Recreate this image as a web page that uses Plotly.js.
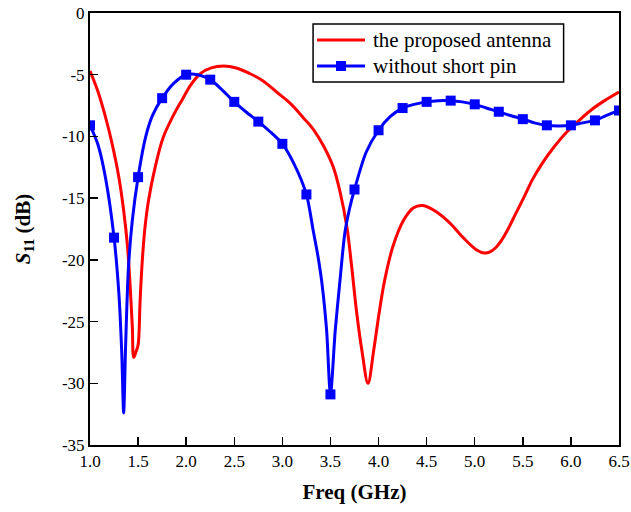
<!DOCTYPE html>
<html>
<head>
<meta charset="utf-8">
<script src="https://cdn.plot.ly/plotly-3.0.1.min.js"></script>
<style>html,body{margin:0;padding:0;background:#fff;}#chart{width:631px;height:512px;}</style>
</head>
<body>
<div id="chart"></div>
<script>
// The proposed antenna
const redFreq = [1.0,1.08,1.16,1.23,1.30,1.35,1.39,1.42,1.44,1.455,1.48,1.50,1.52,1.54,1.57,1.61,1.68,1.76,1.86,1.96,2.05,2.15,2.26,2.39,2.52,2.66,2.80,2.94,3.08,3.22,3.32,3.43,3.53,3.60,3.67,3.72,3.77,3.83,3.89,3.95,4.01,4.065,4.15,4.26,4.36,4.46,4.60,4.74,4.88,5.02,5.10,5.16,5.22,5.28,5.34,5.43,5.52,5.60,5.70,5.82,5.95,6.1,6.22,6.35,6.5];
const redS11 = [-4.7,-6.3,-8.4,-10.6,-13.3,-16.0,-18.9,-22.5,-25.4,-27.9,-27.4,-26.9,-23.5,-20.5,-17.5,-15.1,-12.4,-10.1,-8.4,-7.0,-5.8,-4.9,-4.45,-4.3,-4.45,-4.9,-5.5,-6.4,-7.3,-8.5,-9.4,-10.8,-12.5,-14.5,-17.3,-20.5,-24.1,-27.5,-30.0,-27.3,-24.1,-21.6,-18.9,-16.8,-15.8,-15.6,-16.1,-17.0,-18.2,-19.2,-19.45,-19.35,-19.0,-18.4,-17.6,-16.2,-14.8,-13.5,-12.2,-10.9,-9.7,-8.6,-7.8,-7.1,-6.4];
// Without short pin
const blueFreq = [1.0,1.08,1.16,1.25,1.30,1.33,1.35,1.37,1.40,1.44,1.5,1.58,1.65,1.75,1.87,2.0,2.12,2.25,2.37,2.5,2.62,2.75,2.87,3.0,3.12,3.25,3.32,3.37,3.41,3.46,3.5,3.55,3.60,3.65,3.70,3.75,3.87,4.0,4.12,4.25,4.37,4.5,4.62,4.75,4.87,5.0,5.12,5.25,5.37,5.5,5.62,5.75,5.87,6.0,6.12,6.25,6.37,6.5];
const blueS11 = [-9.1,-10.6,-13.3,-18.2,-22.7,-27.5,-32.4,-27.0,-20.6,-16.8,-13.3,-10.0,-8.3,-6.9,-5.7,-5.0,-5.0,-5.4,-6.2,-7.2,-8.0,-8.8,-9.6,-10.6,-12.2,-14.7,-17.6,-19.7,-21.8,-25.7,-30.9,-25.7,-21.6,-17.8,-15.8,-14.3,-11.3,-9.5,-8.4,-7.7,-7.4,-7.2,-7.1,-7.1,-7.2,-7.4,-7.7,-8.0,-8.3,-8.6,-8.9,-9.1,-9.15,-9.1,-8.9,-8.7,-8.3,-7.9];
const seriesNames = ['the proposed antenna', 'without short pin'];
const xTicks = [1.0,1.5,2.0,2.5,3.0,3.5,4.0,4.5,5.0,5.5,6.0,6.5];
const xTickLabels = ['1.0','1.5','2.0','2.5','3.0','3.5','4.0','4.5','5.0','5.5','6.0','6.5'];
const yTicks = [-35,-30,-25,-20,-15,-10,-5,0];
const yTickLabels = ['-35','-30','-25','-20','-15','-10','-5','0'];
const markerStep = 0.25;

const mkF = [], mkS = [];
blueFreq.forEach((f, i) => {
  const r = f / markerStep;
  if (Math.abs(r - Math.round(r)) < 1e-6) { mkF.push(f); mkS.push(blueS11[i]); }
});

const RED = '#ff0000', BLUE = '#0000ff';
const FONT = 'Liberation Serif';

const traces = [
  {x: redFreq, y: redS11, mode: 'lines', name: seriesNames[0], showlegend: false,
   line: {color: RED, width: 3, shape: 'spline', smoothing: 1}},
  {x: blueFreq, y: blueS11, mode: 'lines', name: seriesNames[1], showlegend: false,
   line: {color: BLUE, width: 3, shape: 'spline', smoothing: 0.8}},
  {x: mkF, y: mkS, mode: 'markers', name: seriesNames[1], showlegend: false,
   marker: {color: BLUE, symbol: 'square', size: 10}}
];

// Legend box (drawn in paper coordinates of the plot area)
const L = {x0: 0.4217, x1: 0.8953, y0: 0.8403, y1: 0.9745,
           lx0: 0.4292, lx1: 0.5198, tx: 0.5320, r1: 0.9375, r2: 0.8773};
const mx = (L.lx0 + L.lx1) / 2, hw = 5 / 530, hh = 5 / 432;

const layout = {
  width: 631, height: 512,
  margin: {l: 89.5, r: 11.5, t: 13, b: 67},
  paper_bgcolor: '#fff', plot_bgcolor: '#fff',
  font: {family: FONT, size: 16, color: '#000'},
  showlegend: false,
  shapes: [
    {type: 'rect', xref: 'paper', yref: 'paper', x0: L.x0, x1: L.x1, y0: L.y0, y1: L.y1,
     line: {color: '#000', width: 1.5}, fillcolor: '#fff', layer: 'above'},
    {type: 'line', xref: 'paper', yref: 'paper', x0: L.lx0, x1: L.lx1, y0: L.r1, y1: L.r1,
     line: {color: RED, width: 3}, layer: 'above'},
    {type: 'line', xref: 'paper', yref: 'paper', x0: L.lx0, x1: L.lx1, y0: L.r2, y1: L.r2,
     line: {color: BLUE, width: 3}, layer: 'above'},
    {type: 'rect', xref: 'paper', yref: 'paper', x0: mx - hw, x1: mx + hw, y0: L.r2 - hh, y1: L.r2 + hh,
     line: {width: 0}, fillcolor: BLUE, layer: 'above'}
  ],
  annotations: [
    {xref: 'paper', yref: 'paper', x: L.tx, y: L.r1, xanchor: 'left', yanchor: 'middle',
     text: seriesNames[0], showarrow: false, font: {family: FONT, size: 21, color: '#000'}},
    {xref: 'paper', yref: 'paper', x: L.tx, y: L.r2, xanchor: 'left', yanchor: 'middle',
     text: seriesNames[1], showarrow: false, font: {family: FONT, size: 21, color: '#000'}}
  ],
  xaxis: {range: [1.0, 6.5], tickvals: xTicks, ticktext: xTickLabels,
          ticks: 'inside', ticklen: 8, tickwidth: 1.5, tickcolor: '#000',
          showline: true, linecolor: '#000', linewidth: 2, mirror: true,
          showgrid: false, zeroline: false,
          tickfont: {family: FONT, size: 17, color: '#000'},
          title: {text: 'Freq (GHz)', font: {family: FONT, size: 21, color: '#000', weight: 'bold'}, standoff: 14}},
  yaxis: {range: [-35, 0], tickvals: yTicks, ticktext: yTickLabels,
          ticks: 'inside', ticklen: 8, tickwidth: 1.5, tickcolor: '#000',
          showline: true, linecolor: '#000', linewidth: 2, mirror: true,
          showgrid: false, zeroline: false,
          tickfont: {family: FONT, size: 17, color: '#000'},
          title: {text: '<i>S</i><sub>11</sub> (dB)', font: {family: FONT, size: 21, color: '#000', weight: 'bold'}, standoff: 26}}
};

Plotly.newPlot('chart', traces, layout, {staticPlot: true, displayModeBar: false});
</script>
</body>
</html>
